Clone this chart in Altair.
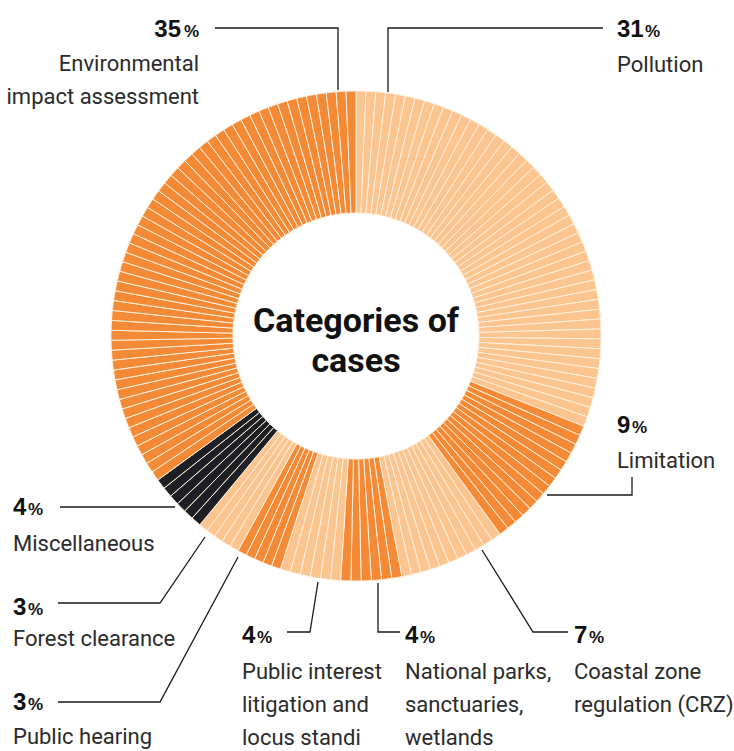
import altair as alt
import pandas as pd

# ---- data ----
categories = ["Pollution", "Limitation", "Coastal zone regulation (CRZ)",
              "National parks, sanctuaries, wetlands",
              "Public interest litigation and locus standi", "Public hearing",
              "Forest clearance", "Miscellaneous", "Environmental impact assessment"]
percent = [31, 9, 7, 4, 4, 3, 3, 4, 35]
# number of thin slices (cases) drawn inside each category
slice_count = [48, 14, 11, 6, 6, 5, 5, 6, 54]
shade = ["light", "orange", "light", "orange", "light", "orange", "light", "black", "orange"]
label_lines = [["Pollution"], ["Limitation"], ["Coastal zone", "regulation (CRZ)"],
               ["National parks,", "sanctuaries,", "wetlands"],
               ["Public interest", "litigation and", "locus standi"], ["Public hearing"],
               ["Forest clearance"], ["Miscellaneous"], ["Environmental", "impact assessment"]]

# ---- annotation layout (pixels) ----
CX, CY, R_IN, R_OUT = 356, 336, 123, 245
num_pos = [(617, 37, "left"), (617, 433, "left"), (574, 643, "left"), (405, 643, "left"),
           (242, 643, "left"), (13, 710, "left"), (13, 615, "left"), (13, 515, "left"),
           (181, 37, "right")]
body_first = [72, 468, 679, 679, 679, 744, 646, 551, 71]
line_gap = 33
leaders = [
    [(388, 92), (388, 28), (603, 28)],
    [(547, 495), (632, 495), (632, 477)],
    [(482, 550), (533, 632), (568, 632)],
    [(378, 583), (378, 632), (400, 632)],
    [(318, 582), (310, 632), (287, 632)],
    [(238, 557), (160, 702), (58, 702)],
    [(205, 537), (160, 603), (58, 603)],
    [(175, 507), (60, 507)],
    [(215, 28), (338, 28), (338, 90)],
]

FONT_BODY = "Roboto"
FONT_NUM = "Liberation Sans"

# slices table
rows = []
i = 0
for c, p, n, s in zip(categories, percent, slice_count, shade):
    for k in range(n):
        rows.append({"cat": c, "shade": s, "v": p / n, "idx": i})
        i += 1
slices = pd.DataFrame(rows)

# leader lines table
lrows = []
for li, pts in enumerate(leaders):
    for si, (px, py) in enumerate(pts):
        lrows.append({"lid": li, "seq": si, "px": px, "py": py})
lines_df = pd.DataFrame(lrows)

# text tables
num_rows, pct_rows, body_rows = [], [], []
for p, (nx, ny, al), lines, by in zip(percent, num_pos, label_lines, body_first):
    digits = len(str(p))
    if al == "left":
        num_rows.append({"x": nx, "y": ny, "t": str(p), "al": "left"})
        pct_rows.append({"x": nx + (28 if digits == 2 else 15), "y": ny, "t": "%", "al": "left"})
        bx = nx
    else:
        num_rows.append({"x": nx, "y": ny, "t": str(p), "al": "right"})
        pct_rows.append({"x": nx + 18, "y": ny, "t": "%", "al": "right"})
        bx = nx + 18
    for j, ln in enumerate(lines):
        body_rows.append({"x": bx, "y": by + j * line_gap, "t": ln, "al": al})

num_df = pd.DataFrame(num_rows)
pct_df = pd.DataFrame(pct_rows)
body_df = pd.DataFrame(body_rows)
title_df = pd.DataFrame({"x": [CX, CX], "y": [332, 372], "t": ["Categories of", "cases"]})

X = lambda f: alt.X(f, type="quantitative", scale=None, axis=None)
Y = lambda f: alt.Y(f, type="quantitative", scale=None, axis=None)

donut = alt.Chart(slices).mark_arc(
    innerRadius=R_IN, outerRadius=R_OUT, stroke="#FFEFDC", strokeWidth=1
).encode(
    theta=alt.Theta("v:Q", stack=True),
    order=alt.Order("idx:Q"),
    color=alt.Color("shade:N", scale=alt.Scale(domain=["light", "orange", "black"],
                                               range=["#FCC48F", "#F58A36", "#1E1F24"]),
                    legend=None),
    x=alt.value(CX), y=alt.value(CY),
)

leader = alt.Chart(lines_df).mark_line(color="#1a1a1a", strokeWidth=1.3).encode(
    x=X("px"), y=Y("py"), detail="lid:N", order="seq:Q"
)

def text_layer(df, align, font, size, weight, color):
    sub = df[df["al"] == align]
    return alt.Chart(sub).mark_text(align=align, baseline="alphabetic", font=font,
                                    fontSize=size, fontWeight=weight, color=color).encode(
        x=X("x"), y=Y("y"), text="t:N")

layers = [donut, leader]
for al in ["left", "right"]:
    layers.append(text_layer(num_df, al, FONT_NUM, 24, "bold", "#111111"))
    layers.append(text_layer(pct_df, al, FONT_NUM, 17, "bold", "#111111"))
    layers.append(text_layer(body_df, al, FONT_BODY, 22, "normal", "#2b2b2b"))

title = alt.Chart(title_df).mark_text(align="center", baseline="alphabetic", font=FONT_BODY,
                                      fontSize=34, fontWeight="bold", color="#111111").encode(
    x=X("x"), y=Y("y"), text="t:N")
layers.append(title)

chart = alt.layer(*layers).properties(
    width=734, height=751, padding=0, autosize=alt.AutoSizeParams(type="none"),
    background="white"
).configure_view(stroke=None)

chart.save("out.html", embed_options={"renderer": "svg", "actions": False})
